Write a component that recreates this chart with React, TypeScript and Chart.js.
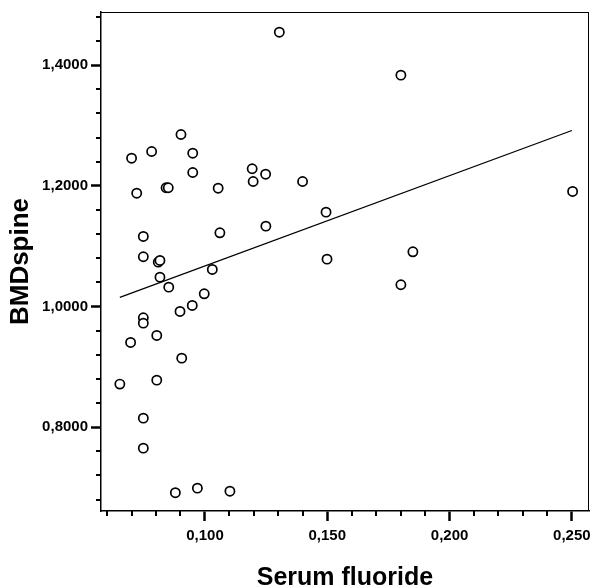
import React, { useEffect, useRef } from 'react';
import { Chart, registerables } from 'chart.js';

Chart.register(...registerables);

// Serum fluoride (x) vs BMDspine (y)
const serumFluoride = [
  0.0700, 0.0782, 0.0902, 0.0950, 0.0950, 0.0721, 0.0841, 0.0850, 0.1054, 0.0748,
  0.1061, 0.0748, 0.0809, 0.0816, 0.0816, 0.1030, 0.0852, 0.0997, 0.0898, 0.0948,
  0.0748, 0.0748, 0.0696, 0.0803, 0.0905, 0.0652, 0.0803, 0.0748, 0.0748, 0.0879,
  0.0969, 0.1102, 0.1304, 0.1801, 0.1193, 0.1197, 0.1248, 0.1399, 0.2503, 0.1249,
  0.1495, 0.1499, 0.1850, 0.1801,
];
const bmdSpine = [
  1.2457, 1.2568, 1.2850, 1.2540, 1.2220, 1.1877, 1.1967, 1.1967, 1.1960, 1.1160,
  1.1221, 1.0824, 1.0734, 1.0762, 1.0486, 1.0613, 1.0320, 1.0210, 0.9917, 1.0017,
  0.9813, 0.9723, 0.9403, 0.9519, 0.9143, 0.8713, 0.8779, 0.8149, 0.7652, 0.6913,
  0.6989, 0.6938, 1.4545, 1.3833, 1.2282, 1.2071, 1.2192, 1.2071, 1.1906, 1.1331,
  1.1563, 1.0784, 1.0906, 1.0360,
];

// Fitted regression line end points
const fitX = [0.0652, 0.2500];
const fitY = [1.0149, 1.2916];

// Axis labels / ticks
const xTitle = 'Serum fluoride';
const yTitle = 'BMDspine';
const xMajorStep = 0.05;
const xMinorStep = 0.01;
const yMajorStep = 0.2;
const yMinorStep = 0.04;

const FONT = "'Liberation Sans', Arial, sans-serif";

const isMajor = (v: number, step: number) =>
  Math.abs(v / step - Math.round(v / step)) < 1e-6;

const frameAndMinorTicks = {
  id: 'frameAndMinorTicks',
  afterDraw(chart: any) {
    const { ctx, chartArea: a, scales } = chart;
    ctx.save();
    ctx.strokeStyle = '#000';
    ctx.lineWidth = 1;
    ctx.beginPath();
    ctx.moveTo(a.left, a.top + 0.5);
    ctx.lineTo(a.right, a.top + 0.5);
    ctx.moveTo(a.right - 0.5, a.top);
    ctx.lineTo(a.right - 0.5, a.bottom);
    ctx.stroke();

    ctx.lineWidth = 2;
    ctx.beginPath();
    const xs = scales.x;
    xs.ticks.forEach((t: any) => {
      if (!isMajor(t.value, xMajorStep)) {
        const px = Math.round(xs.getPixelForValue(t.value));
        ctx.moveTo(px, a.bottom);
        ctx.lineTo(px, a.bottom + 5);
      }
    });
    const ys = scales.y;
    ys.ticks.forEach((t: any) => {
      if (!isMajor(t.value, yMajorStep)) {
        const py = Math.round(ys.getPixelForValue(t.value));
        ctx.moveTo(a.left, py);
        ctx.lineTo(a.left - 5, py);
      }
    });
    ctx.stroke();
    ctx.restore();
  },
};

export default function App() {
  const canvasRef = useRef<HTMLCanvasElement | null>(null);

  useEffect(() => {
    if (!canvasRef.current) return;
    const points = serumFluoride.map((x, i) => ({ x, y: bmdSpine[i] }));
    const fit = fitX.map((x, i) => ({ x, y: fitY[i] }));

    const chart = new Chart(canvasRef.current, {
      type: 'scatter',
      data: {
        datasets: [
          {
            type: 'line',
            label: 'Fit',
            data: fit,
            borderColor: '#000',
            borderWidth: 1.3,
            pointRadius: 0,
            fill: false,
            order: 2,
          } as any,
          {
            type: 'scatter',
            label: 'BMDspine',
            data: points,
            pointStyle: 'circle',
            pointRadius: 4.6,
            pointBorderWidth: 1.7,
            borderColor: '#000',
            backgroundColor: '#fff',
            order: 1,
          } as any,
        ],
      },
      options: {
        responsive: false,
        animation: false,
        layout: { autoPadding: false, padding: { top: 12, right: 1, bottom: 0, left: 0 } },
        plugins: {
          legend: { display: false },
          tooltip: { enabled: false },
        },
        scales: {
          x: {
            type: 'linear',
            min: 0.0575,
            max: 0.257,
            afterFit: (s: any) => {
              s.height = 77;
              s.paddingLeft = 0;
              s.paddingRight = 0;
            },
            border: { display: true, color: '#000', width: 1.5 },
            grid: {
              drawOnChartArea: false,
              drawTicks: true,
              tickLength: 10,
              tickWidth: 2.5,
              tickColor: (c: any) =>
                c.tick && isMajor(c.tick.value, xMajorStep) ? '#000' : 'rgba(0,0,0,0)',
            },
            ticks: {
              stepSize: xMinorStep,
              includeBounds: false,
              maxTicksLimit: 100,
              autoSkip: false,
              maxRotation: 0,
              minRotation: 0,
              padding: 6,
              color: '#000',
              font: { family: FONT, size: 15, weight: 'bold' },
              callback: (v: any) =>
                isMajor(Number(v), xMajorStep) ? Number(v).toFixed(3).replace('.', ',') : '',
            },
            title: {
              display: true,
              text: xTitle,
              color: '#000',
              font: { family: FONT, size: 25, weight: 'bold', lineHeight: 0.8 },
              padding: 0,
            },
          },
          y: {
            type: 'linear',
            min: 0.661,
            max: 1.488,
            afterFit: (s: any) => {
              s.width = 101;
              s.paddingTop = 0;
              s.paddingBottom = 0;
            },
            border: { display: true, color: '#000', width: 1.5 },
            grid: {
              drawOnChartArea: false,
              drawTicks: true,
              tickLength: 10,
              tickWidth: 2.5,
              tickColor: (c: any) =>
                c.tick && isMajor(c.tick.value, yMajorStep) ? '#000' : 'rgba(0,0,0,0)',
            },
            ticks: {
              stepSize: yMinorStep,
              includeBounds: false,
              maxTicksLimit: 100,
              autoSkip: false,
              padding: 3,
              color: '#000',
              font: { family: FONT, size: 15, weight: 'bold' },
              callback: (v: any) =>
                isMajor(Number(v), yMajorStep) ? Number(v).toFixed(4).replace('.', ',') : '',
            },
            title: {
              display: true,
              text: yTitle,
              color: '#000',
              font: { family: FONT, size: 26, weight: 'bold', lineHeight: 0.8 },
              padding: { top: 10, bottom: 0 },
            },
          },
        },
      },
      plugins: [frameAndMinorTicks],
    });

    return () => chart.destroy();
  }, []);

  return (
    <div style={{ position: 'absolute', left: 0, top: 0, width: 590, height: 588, background: '#fff' }}>
      <canvas ref={canvasRef} width={590} height={588} style={{ display: 'block' }} />
    </div>
  );
}
